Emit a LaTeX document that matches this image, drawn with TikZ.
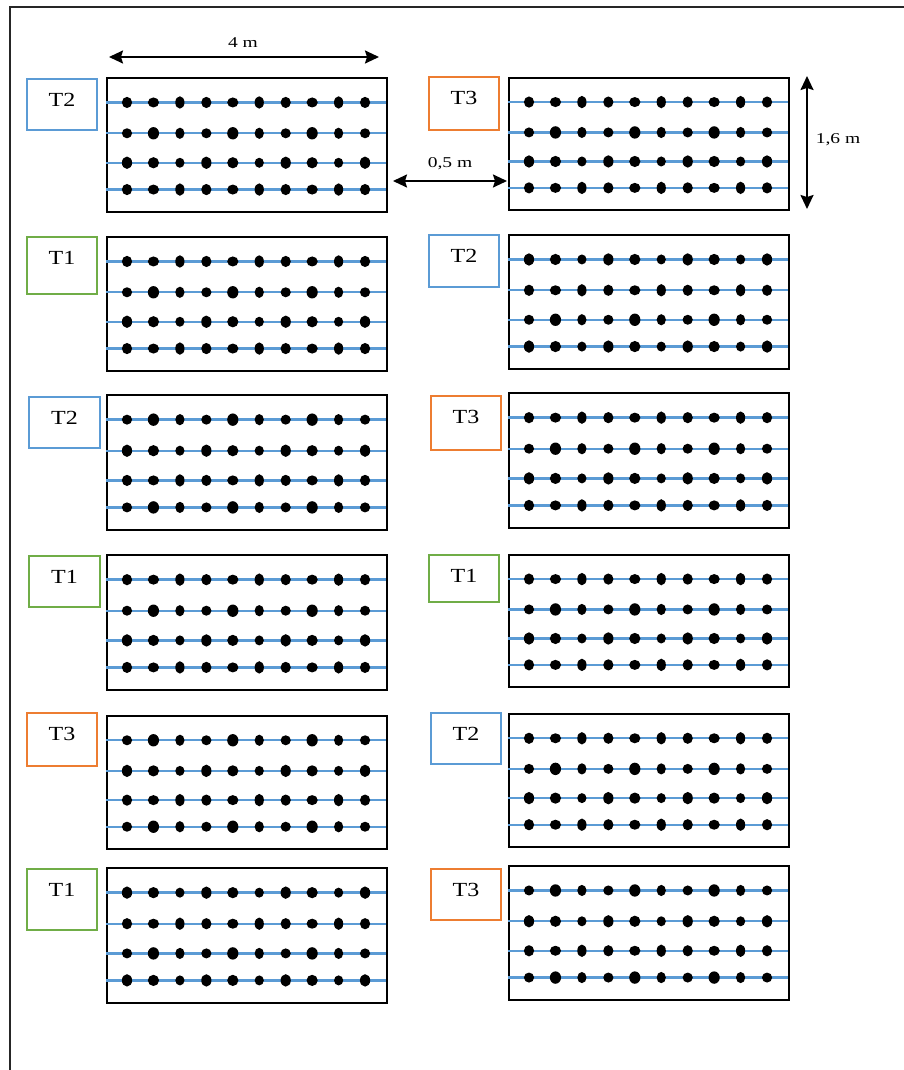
\documentclass[tikz,border=0pt]{standalone}
\usepackage{fontspec}
\setmainfont{Liberation Serif}
\usetikzlibrary{arrows.meta}
\definecolor{tblue}{HTML}{5B9BD5}
\definecolor{tgreen}{HTML}{70AD47}
\definecolor{torange}{HTML}{ED7D31}
\tikzset{
  plotbox/.style={draw=black, line width=2pt, anchor=north west, minimum width=280pt, inner sep=0pt},
  rowline/.style={draw=tblue, line width=2.4pt},
  tbox/.style={draw=#1, line width=2pt, inner sep=0pt},
  tlabel/.style={font=\fontsize{20}{20}\selectfont, inner sep=0pt},
  dimlabel/.style={font=\fontsize{15}{15}\selectfont, inner sep=0pt},
  dimarrow/.style={line width=2pt, {Stealth[length=14pt,width=13pt,inset=2pt]}-{Stealth[length=14pt,width=13pt,inset=2pt]}},
}
\newcommand\fieldplot[4]{%
  \pgfmathsetmacro\hh{#4-#3}%
  \node[plotbox, minimum height=\hh pt] (#1) at (#2,#3) {};
  \foreach \f [count=\j] in {0.19,0.42,0.64,0.84}{%
    \draw[rowline] (#2,{#3+\f*\hh}) -- ({#2+280},{#3+\f*\hh});
    \foreach \k in {0,...,9}{%
      \pgfmathsetmacro\rx{4.6+0.5*mod(\k*7+\j*3+#2,3)}%
      \pgfmathsetmacro\ry{5.0+0.6*mod(\k*5+\j*2+#3,3)}%
      \fill ({#2+21+\k*26.45},{#3+\f*\hh}) ellipse [x radius=\rx pt, y radius=\ry pt];
    }
  }
}
\begin{document}
\begin{tikzpicture}[x=1pt,y=-1pt]
\useasboundingbox (0,0) rectangle (904,1070);
% outer frame (top and left edges)
\draw[line width=2.2pt, black!85] (10,1070) -- (10,7) -- (904,7);

% plots
\fieldplot{P11}{106}{77}{211}
\fieldplot{P12}{508}{77}{209}
\fieldplot{P21}{106}{236}{370}
\fieldplot{P22}{508}{234}{368}
\fieldplot{P31}{106}{394}{529}
\fieldplot{P32}{508}{392}{527}
\fieldplot{P41}{106}{554}{689}
\fieldplot{P42}{508}{554}{686}
\fieldplot{P51}{106}{715}{848}
\fieldplot{P52}{508}{713}{846}
\fieldplot{P61}{106}{867}{1002}
\fieldplot{P62}{508}{865}{999}

% treatment labels
\node[tbox=tblue,   minimum width=70pt, minimum height=51pt] (L11) at (62,104.5) {};
\node[tlabel] (t11) at ([yshift=-22pt]L11.north) {\scalebox{1.2}[1]{T2}};
\node[tbox=torange, minimum width=70pt, minimum height=53pt] (L12) at (464,103.5) {};
\node[tlabel] (t12) at ([yshift=-22pt]L12.north) {\scalebox{1.2}[1]{T3}};
\node[tbox=tgreen,  minimum width=70pt, minimum height=57pt] (L21) at (62,265.5) {};
\node[tlabel] (t21) at ([yshift=-22pt]L21.north) {\scalebox{1.2}[1]{T1}};
\node[tbox=tblue,   minimum width=70pt, minimum height=52pt] (L22) at (464,261) {};
\node[tlabel] (t22) at ([yshift=-22pt]L22.north) {\scalebox{1.2}[1]{T2}};
\node[tbox=tblue,   minimum width=71pt, minimum height=51pt] (L31) at (64.5,422.5) {};
\node[tlabel] (t31) at ([yshift=-22pt]L31.north) {\scalebox{1.2}[1]{T2}};
\node[tbox=torange, minimum width=70pt, minimum height=54pt] (L32) at (466,423) {};
\node[tlabel] (t32) at ([yshift=-22pt]L32.north) {\scalebox{1.2}[1]{T3}};
\node[tbox=tgreen,  minimum width=71pt, minimum height=51pt] (L41) at (64.5,581.5) {};
\node[tlabel] (t41) at ([yshift=-22pt]L41.north) {\scalebox{1.2}[1]{T1}};
\node[tbox=tgreen,  minimum width=70pt, minimum height=47pt] (L42) at (464,578.5) {};
\node[tlabel] (t42) at ([yshift=-22pt]L42.north) {\scalebox{1.2}[1]{T1}};
\node[tbox=torange, minimum width=70pt, minimum height=53pt] (L51) at (62,739.5) {};
\node[tlabel] (t51) at ([yshift=-22pt]L51.north) {\scalebox{1.2}[1]{T3}};
\node[tbox=tblue,   minimum width=70pt, minimum height=51pt] (L52) at (466,738.5) {};
\node[tlabel] (t52) at ([yshift=-22pt]L52.north) {\scalebox{1.2}[1]{T2}};
\node[tbox=tgreen,  minimum width=70pt, minimum height=61pt] (L61) at (62,899.5) {};
\node[tlabel] (t61) at ([yshift=-22pt]L61.north) {\scalebox{1.2}[1]{T1}};
\node[tbox=torange, minimum width=70pt, minimum height=51pt] (L62) at (466,894.5) {};
\node[tlabel] (t62) at ([yshift=-22pt]L62.north) {\scalebox{1.2}[1]{T3}};

% dimension arrows
\coordinate (a1) at (109,57);
\coordinate (a2) at (379,57);
\draw[dimarrow] (a1) -- (a2);
\node[dimlabel] (d1) at (243,43) {\scalebox{1.3}[1]{4 m}};

\coordinate (b1) at (393,181);
\coordinate (b2) at (507,181);
\draw[dimarrow] (b1) -- (b2);
\node[dimlabel] (d2) at (450,164) {\scalebox{1.3}[1]{0,5 m}};

\coordinate (c1) at (807,76);
\coordinate (c2) at (807,209);
\draw[dimarrow] (c1) -- (c2);
\node[dimlabel] (d3) at (838,140) {\scalebox{1.3}[1]{1,6 m}};
\end{tikzpicture}
\end{document}
